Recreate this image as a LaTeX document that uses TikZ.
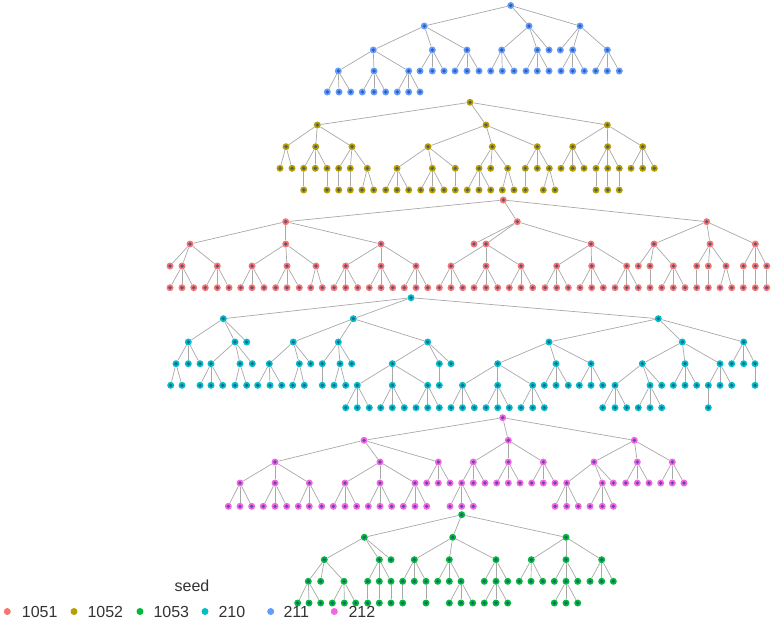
\documentclass[tikz,border=0pt]{standalone}
\usepackage{fontspec}
\setmainfont{Liberation Sans}
\usepackage{tikz}

\definecolor{c1051}{HTML}{F8766D}
\definecolor{c1052}{HTML}{B79F00}
\definecolor{c1053}{HTML}{00BA38}
\definecolor{c210}{HTML}{00BFC4}
\definecolor{c211}{HTML}{619CFF}
\definecolor{c212}{HTML}{F564E3}
\definecolor{hub}{HTML}{23408E}
\definecolor{twig}{HTML}{A8A8A8}
\definecolor{ink}{HTML}{333333}

\tikzset{
  dot/.style={circle, inner sep=0pt, minimum size=7pt, fill=#1, draw=none,
    path picture={\fill[hub, opacity=.7] (path picture bounding box.center) circle (1.8pt);}},
  edge/.style={draw=twig, line width=.7pt},
  key/.style={circle, inner sep=0pt, minimum size=7pt, fill=#1},
  keytext/.style={anchor=west, inner sep=0pt, text=ink, font=\fontsize{16}{19}\selectfont}
}

% one level of a tree: #1 level name, #2 parent level, #3 y, #4 colour, #5 list x/parent
\newcommand{\treelevel}[5]{%
  \foreach [count=\i] \x/\p in {#5} {
    \node[dot=#4] (#1-\i) at (\x,#3) {};
    \draw[edge] (#2-\p) -- (#1-\i);
  }}

\begin{document}
\begin{tikzpicture}[x=1pt, y=-1pt]
\useasboundingbox (0,0) rectangle (775,621);

%%%%% seed 211
\node[dot=c211] (bl0-1) at (510.7,5.5) {};
\treelevel{bl1}{bl0}{26}{c211}{424.3/1, 529/1, 580/1}
\treelevel{bl2}{bl1}{50}{c211}{373.3/1, 432.3/1, 467/1, 501.7/2, 537.3/2, 549/2, 560.3/3, 572.7/3, 607.3/3}
\treelevel{bl3}{bl2}{71}{c211}{338.3/1, 374/1, 408.7/1, 420/2, 432.3/2, 444/2, 455/3, 467/3, 479/3, 490.7/4, 502.3/4, 514/4, 526/5, 537.3/5, 549/5, 561/8, 572.7/8, 584.3/8, 595.7/9, 607.3/9, 619.3/9}
\treelevel{bl4}{bl3}{92}{c211}{327.3/1, 339/1, 350.7/1, 362.3/2, 374/2, 385.7/2, 397.3/3, 408.7/3, 420/3}

%%%%% seed 1052
\node[dot=c1052] (ol0-1) at (470,102.3) {};
\treelevel{ol1}{ol0}{125}{c1052}{317.3/1, 486/1, 607.3/1}
\treelevel{ol2}{ol1}{146.7}{c1052}{286/1, 315.7/1, 352/1, 428/2, 492.3/2, 537.3/2, 572.7/3, 607.7/3, 642.7/3}
\treelevel{ol3}{ol2}{168.3}{c1052}{280/1, 292/1, 303.7/2, 315.3/2, 327/2, 338.7/3, 350.3/3, 367.3/3, 397/4, 432.3/4, 455.3/4, 479/5, 490.7/5, 507.7/5, 525.3/6, 537.3/6, 549.3/6, 561/7, 572.7/7, 584/7, 596/8, 607.7/8, 619.3/8, 631/9, 642.7/9, 654.3/9}
\treelevel{ol4}{ol3}{190}{c1052}{303.7/3, 327/5, 338.7/6, 350.3/7, 362/8, 373.7/8, 385.7/9, 397/9, 408.7/9, 420.7/10, 432.3/10, 444/10, 455.3/11, 467.3/12, 479/12, 490.7/12, 502.3/14, 514/14, 525.3/15, 543.3/17, 555/17, 596/21, 607.7/22, 619.3/23}

%%%%% seed 1051
\node[dot=c1051] (rd0-1) at (503.3,200) {};
\treelevel{rd1}{rd0}{221.7}{c1051}{285.7/1, 517.3/1, 706.7/1}
\treelevel{rd2}{rd1}{244}{c1051}{190/1, 285.7/1, 381/1, 474/2, 486/2, 591/2, 654/3, 710/3, 755.3/3}
\treelevel{rd3}{rd2}{266}{c1051}{170/1, 182/1, 217.3/1, 252/2, 287/2, 316/2, 345.7/3, 381/3, 416/3, 451/5, 486/5, 521/5, 556.7/6, 591.7/6, 626.7/6, 638.3/7, 650/7, 673.3/7, 696.7/8, 708.3/8, 726/8, 743.3/9, 755.3/9, 766.7/9}
\treelevel{rd4}{rd3}{287.7}{c1051}{170/2, 182/2, 193.7/2, 205.3/3, 217.3/3, 229/3, 240.7/4, 252/4, 264/4, 275.7/5, 287/5, 299.3/5, 310.7/6, 322.3/6, 334/7, 345.7/7, 357.7/7, 369.3/8, 381/8, 392.7/8, 404.3/9, 416/9, 427.7/9, 439.3/10, 451/10, 462.7/10, 474/11, 486/11, 497.7/11, 509.3/12, 521/12, 532.7/12, 545/13, 556.7/13, 568.3/13, 580/14, 591.7/14, 603.3/14, 615/15, 626.7/15, 638.3/15, 650/17, 661.7/18, 673.3/18, 685/18, 696.7/19, 708.3/20, 720/21, 731.7/21, 743.3/22, 755.3/23, 766.7/24}

%%%%% seed 210
\node[dot=c210] (cy0-1) at (411,297.7) {};
\treelevel{cy1}{cy0}{318.7}{c210}{223.3/1, 353.3/1, 658.3/1}
\treelevel{cy2}{cy1}{342}{c210}{188.3/1, 235/1, 246.7/1, 293.3/2, 338.3/2, 427.7/2, 549/3, 682.3/3, 743.7/3}
\treelevel{cy3}{cy2}{363.7}{c210}{176/1, 188.3/1, 200/1, 211/2, 240/2, 252.3/2, 269.3/4, 299.3/4, 310.7/4, 322.3/5, 340/5, 351.7/5, 392.3/6, 439.3/6, 451/6, 497.7/7, 556/7, 591/7, 642.3/8, 685/8, 720/8, 731.7/9, 743.7/9, 755/9}
\treelevel{cy4}{cy3}{385.3}{c210}{170.7/1, 182/1, 200/4, 211/4, 222.7/4, 235/5, 246.7/5, 257.7/7, 270/7, 281.7/7, 292.7/8, 304.3/8, 322.3/10, 334/11, 345.7/11, 357.3/13, 392.3/13, 427.7/13, 439.3/14, 462.5/16, 497.7/16, 532.7/16, 544.3/17, 556/17, 568.3/17, 579.3/18, 591/18, 602.7/18, 615/19, 650/19, 661.7/19, 673.3/20, 685/20, 696.7/20, 708.3/21, 720/21, 731.7/21, 755/24}
\treelevel{cy5}{cy4}{407.7}{c210}{345.7/16, 357.3/16, 369.3/16, 380.7/17, 392.3/17, 404.3/17, 416/18, 427.7/18, 439.3/18, 451/20, 462.5/20, 474.3/20, 486/21, 497.7/21, 509.3/21, 521/22, 532.7/22, 544.3/22, 602.7/29, 615/29, 626.7/29, 638.3/30, 650/30, 661.7/30, 708.3/35}

%%%%% seed 212
\node[dot=c212] (mg0-1) at (502.7,417.7) {};
\treelevel{mg1}{mg0}{440.3}{c212}{364/1, 508.3/1, 634.3/1}
\treelevel{mg2}{mg1}{462}{c212}{275/1, 380/1, 438.3/1, 473.3/2, 508.3/2, 543.3/2, 594/3, 637.3/3, 672.3/3}
\treelevel{mg3}{mg2}{483}{c212}{240/1, 275/1, 309.3/1, 345/2, 380/2, 415/2, 426.7/3, 438.3/3, 450/3, 461.7/4, 473.3/4, 485/4, 496.7/5, 508.3/5, 520/5, 531.7/6, 543.3/6, 555/6, 566.7/7, 602.3/7, 613.3/7, 625.7/8, 637.3/8, 649/8, 660.7/9, 672.3/9, 684/9}
\treelevel{mg4}{mg3}{506.3}{c212}{228.3/1, 240/1, 251.7/1, 263.3/2, 275/2, 286.7/2, 298.3/3, 309.3/3, 321.7/3, 333.3/4, 345/4, 356.7/4, 368.3/5, 380/5, 391.7/5, 403.3/6, 415/6, 426.7/6, 450/10, 461.7/10, 473.3/10, 555/19, 566.7/19, 578.3/19, 590/20, 602.3/20, 613.3/20}

%%%%% seed 1053
\node[dot=c1053] (gr0-1) at (461.7,514.7) {};
\treelevel{gr1}{gr0}{537.3}{c1053}{364.3/1, 452.7/1, 566/1}
\treelevel{gr2}{gr1}{559.7}{c1053}{324.3/1, 379.3/1, 391/1, 414.3/2, 449.3/2, 496/2, 531.3/3, 566/3, 601.7/3}
\treelevel{gr3}{gr2}{581.3}{c1053}{308.3/1, 320.7/1, 344/1, 367.7/2, 379.3/2, 391/2, 402.7/4, 414.3/4, 426/4, 437.7/5, 449.3/5, 461/5, 484.3/6, 496/6, 507.7/6, 519.3/7, 531/7, 542.7/7, 554.3/8, 566/8, 577.7/8, 590/9, 601.7/9, 613.3/9}
\treelevel{gr4}{gr3}{603}{c1053}{297.7/1, 309/1, 320.7/1, 332.3/3, 344.3/3, 355.7/3, 367.7/4, 379.3/5, 391/6, 402.7/7, 426/9, 449.3/12, 461/12, 472.7/12, 484.3/14, 496/14, 507.7/14, 554.3/20, 566/20, 577.7/20}

%%%%% legend
\node[text=ink, inner sep=0pt, font=\fontsize{16}{19}\selectfont] (seed) at (192,585.5) {seed};
\node[key=c1051] (k1051) at (7.3,611.5) {};   \node[keytext] (t1051) at (21.7,611.5) {1051};
\node[key=c1052] (k1052) at (74,611.5) {};    \node[keytext] (t1052) at (87.3,611.5) {1052};
\node[key=c1053] (k1053) at (140,611.5) {};   \node[keytext] (t1053) at (153.3,611.5) {1053};
\node[key=c210] (k210) at (205,611.5) {};     \node[keytext] (t210) at (218.3,611.5) {210};
\node[key=c211] (k211) at (270.7,611.5) {};   \node[keytext] (t211) at (283.3,611.5) {211};
\node[key=c212] (k212) at (334.3,611.5) {};   \node[keytext] (t212) at (348.3,611.5) {212};

\end{tikzpicture}
\end{document}
